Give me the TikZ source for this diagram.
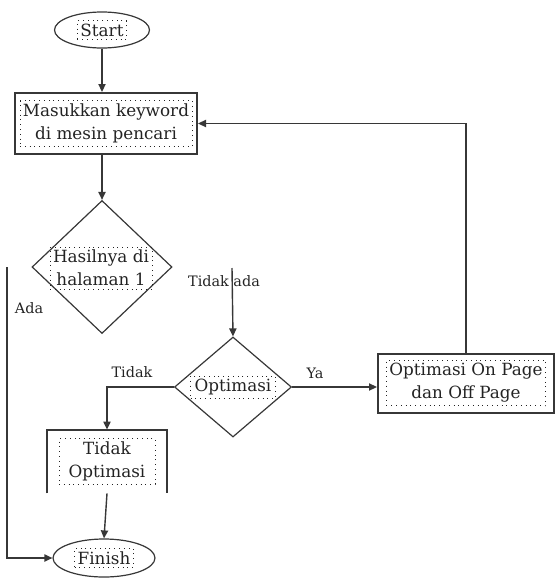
\documentclass[tikz,border=0pt]{standalone}
\usepackage{fontspec}
\setmainfont{DejaVu Serif}
\usepackage{tikz}
\usetikzlibrary{shapes.geometric, arrows.meta, positioning}
\definecolor{mydark}{RGB}{35,35,35}
\definecolor{myline}{RGB}{55,55,55}
\tikzset{
  termnode/.style={ellipse, draw=myline, line width=0.6pt, inner sep=0pt},
  procnode/.style={rectangle, draw=myline, line width=1pt, inner sep=0pt},
  decnode/.style={diamond, draw=myline, line width=0.6pt, inner sep=0pt},
  txtbox/.style={rectangle, draw=mydark, dotted, align=center, inner sep=1.5pt,
    font=\rmfamily\fontsize{8.4}{11.5}\selectfont, text=mydark},
  lbl/.style={font=\rmfamily\fontsize{7.2}{10}\selectfont, text=mydark, inner sep=0pt},
  arrow/.style={-{Triangle[length=4pt,width=3.6pt]}, line width=0.7pt, color=myline},
  line/.style={line width=0.7pt, color=myline}
}

\begin{document}
\begin{tikzpicture}[x=0.5pt, y=-0.5pt]
  \useasboundingbox (0,0) rectangle (556,578);

  % Nodes
  \node[termnode, minimum width=47.5pt, minimum height=18pt] (start) at (102,30) {};
  \node[txtbox] (starttxt) at (start) {Start};

  \node[procnode, minimum width=91pt, minimum height=30.5pt] (masukkan) at (106,123.5) {};
  \node[txtbox] (masukkantxt) at (masukkan) {Masukkan keyword\\di mesin pencari};

  \node[decnode, minimum width=70pt, minimum height=66.5pt] (hasil) at (102,267) {};
  \node[txtbox] (hasiltxt) at (101,268) {Hasilnya di\\halaman 1};

  \node[decnode, minimum width=58.5pt, minimum height=50pt] (optimasi) at (233,387) {};
  \node[txtbox, minimum width=42.5pt] (optimasitxt) at (optimasi) {Optimasi};

  \node[procnode, minimum width=88pt, minimum height=29.5pt] (onpage) at (466,383) {};
  \node[txtbox, minimum width=79pt] (onpagetxt) at (onpage) {Optimasi On Page\\dan Off Page};

  \node[minimum width=60pt, minimum height=31.5pt, inner sep=0pt] (tidakopt) at (107,461.5) {};
  \node[txtbox, minimum width=48pt] (tidakopttxt) at (tidakopt) {Tidak\\Optimasi};

  \node[termnode, minimum width=51pt, minimum height=19pt] (finish) at (104,558) {};
  \node[txtbox] (finishtxt) at (finish) {Finish};

  \coordinate (adatop) at (7,267);
  \coordinate (tidakadatop) at (232,268);

  % open box
  \draw[line, line width=1pt] (tidakopt.south west) -- (tidakopt.north west)
    -- (tidakopt.north east) -- (tidakopt.south east);

  % Connections
  \draw[arrow] (start) -- (start |- masukkan.north);
  \draw[arrow] (hasil.north |- masukkan.south) -- (hasil.north);
  \draw[arrow] (adatop) |- (finish.west);
  \draw[arrow] (tidakadatop) -- (optimasi.north);
  \draw[arrow] (optimasi.east) -- (optimasi.east -| onpage.west);
  \draw[arrow] (onpage.north) |- (masukkan.east);
  \draw[arrow] (optimasi.west) -| (tidakopt.north);
  \draw[arrow] (tidakopt.south) -- (finish.north);

  % Labels
  \node[lbl] (ada) at (29,308) {Ada};
  \node[lbl] (tidakada) at (224,281) {Tidak ada};
  \node[lbl] (ya) at (315,373) {Ya};
  \node[lbl] (tidak) at (132,372) {Tidak};
\end{tikzpicture}
\end{document}
